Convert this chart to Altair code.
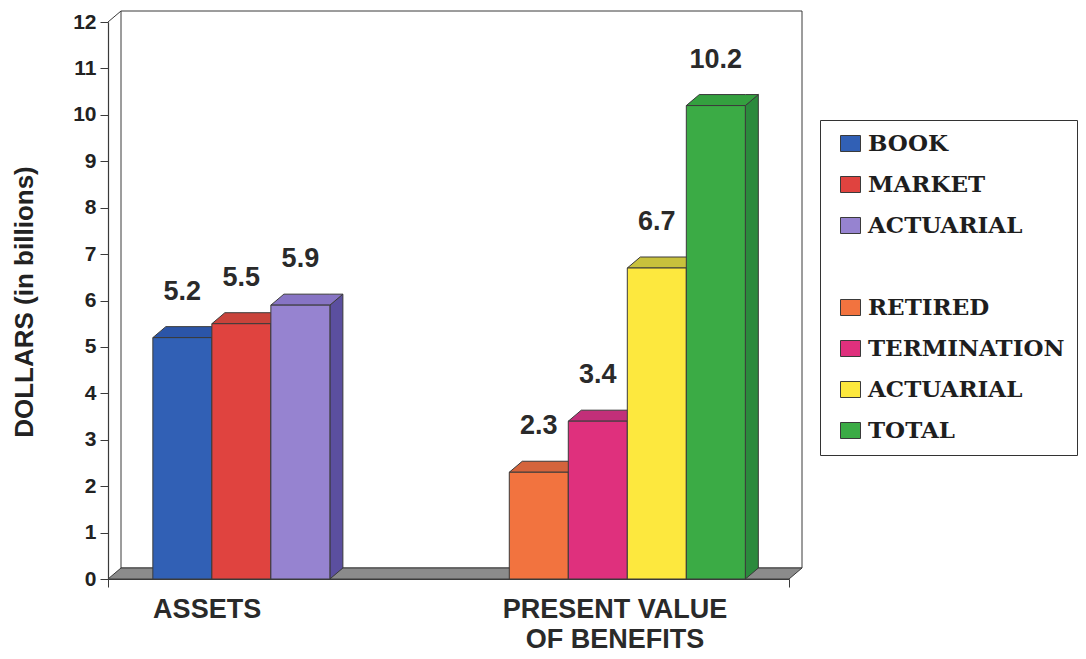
import altair as alt
import pandas as pd

# ---- data -------------------------------------------------------------
group_labels = ["ASSETS", "PRESENT VALUE\nOF BENEFITS"]

assets_keys = ["BOOK", "MARKET", "ACTUARIAL"]
assets_values = [5.2, 5.5, 5.9]

benefit_keys = ["RETIRED", "TERMINATION", "ACTUARIAL ", "TOTAL"]
benefit_values = [2.3, 3.4, 6.7, 10.2]

# legend order; " " is an empty spacer row between the two groups
legend_order = ["BOOK", "MARKET", "ACTUARIAL", " ",
                "RETIRED", "TERMINATION", "ACTUARIAL ", "TOTAL"]
front_colors = ["#3160b5", "#e0433f", "#9683d0", "#ffffff",
                "#f2733f", "#df307d", "#fde83e", "#3bab45"]
top_colors = ["#2b55a8", "#c9433b", "#8774c4", "#ffffff",
              "#d4643c", "#c22f79", "#c8c13c", "#34a03f"]
side_colors = ["#23478f", "#b03a35", "#5b4f9f", "#ffffff",
               "#bf5a36", "#a82a69", "#b3ad34", "#2b8a3d"]

y_ticks = list(range(0, 13))

# ---- layout (x in bar-width units, y in billions) ---------------------
BAR_W = 1.0
X_MAX = 11.54
GROUP_START = [0.76, 6.80]
GROUP_LABEL_X = [1.68, 8.59]
DX = 13 / 59.0          # depth of the 3-D extrusion, horizontal
DY = 11 / 46.42         # depth of the 3-D extrusion, vertical
Y_MAX = 12

W, H = 681, 557
PAD = {"left": 108, "top": 22, "right": 1086 - 108 - W, "bottom": 659 - 22 - H}

EDGE = "#3a3a3a"
SANS = "Liberation Sans"

top_of = dict(zip(legend_order, top_colors))
side_of = dict(zip(legend_order, side_colors))
edge_colors = [EDGE if k.strip() else "#ffffff" for k in legend_order]

bars, tops, sides = [], [], []
for g, (keys, vals) in enumerate([(assets_keys, assets_values),
                                  (benefit_keys, benefit_values)]):
    for i, (k, v) in enumerate(zip(keys, vals)):
        x0 = GROUP_START[g] + i * BAR_W
        x1 = x0 + BAR_W
        fid = f"{g}-{i}"
        bars.append({"key": k, "value": v, "base": 0.0, "x0": x0, "x1": x1,
                     "xc": (x0 + x1) / 2, "label": f"{v:.1f}"})
        for px, hi, lo in [(x0, v, v), (x0 + DX, v + DY, v),
                           (x1, v + DY, v), (x1 + DX, v + DY, v + DY)]:
            tops.append({"face": fid, "x": px, "hi": hi, "lo": lo, "fill": top_of[k]})
        for px, hi, lo in [(x1, v, 0), (x1 + DX, v + DY, DY)]:
            sides.append({"face": fid, "x": px, "hi": hi, "lo": lo, "fill": side_of[k]})

bars_df = pd.DataFrame(bars)
tops_df = pd.DataFrame(tops)
sides_df = pd.DataFrame(sides)

floor_df = pd.DataFrame({"x": [0, DX, X_MAX, X_MAX + DX],
                         "hi": [0, DY, DY, DY],
                         "lo": [0, 0, 0, DY]})
wall_df = pd.DataFrame({"x": [DX], "x2": [X_MAX + DX], "y": [DY], "y2": [Y_MAX + DY]})
edge_df = pd.DataFrame({"x": [0], "x2": [DX], "y": [Y_MAX], "y2": [Y_MAX + DY]})
groups_df = pd.DataFrame({"x": GROUP_LABEL_X, "text": group_labels})

xs = alt.Scale(domain=[0, X_MAX], nice=False, zero=False)
ys = alt.Scale(domain=[0, Y_MAX], nice=False)

x_axis = alt.Axis(values=[0, X_MAX], labels=False, title=None, grid=False,
                  tickSize=8, tickColor=EDGE, domainColor=EDGE, domainWidth=1.2)
y_axis = alt.Axis(values=y_ticks, grid=False, tickSize=8, tickColor=EDGE,
                  domainColor=EDGE, domainWidth=1.2, labelPadding=4,
                  labelFont=SANS, labelFontWeight="bold", labelFontSize=21,
                  labelColor="#222", title="DOLLARS (in billions)",
                  titleFont=SANS, titleFontWeight="bold", titleFontSize=26,
                  titleColor="#222", titleX=-84, titleY=H / 2 + 1,
                  titleAngle=-90, titleBaseline="middle", titleAlign="center")

wall = alt.Chart(wall_df).mark_rect(fill="white", stroke=EDGE, strokeWidth=1).encode(
    x=alt.X("x:Q", scale=xs, axis=x_axis), x2="x2:Q",
    y=alt.Y("y:Q", scale=ys, axis=y_axis), y2="y2:Q")

edge = alt.Chart(edge_df).mark_rule(color=EDGE, strokeWidth=1).encode(
    x=alt.X("x:Q", scale=xs), x2="x2:Q", y=alt.Y("y:Q", scale=ys), y2="y2:Q")

floor = alt.Chart(floor_df).mark_area(fill="#8b8b8b", stroke=EDGE, strokeWidth=1).encode(
    x=alt.X("x:Q", scale=xs), y=alt.Y("hi:Q", scale=ys), y2="lo:Q")

side_faces = alt.Chart(sides_df).mark_area(stroke=EDGE, strokeWidth=1).encode(
    x=alt.X("x:Q", scale=xs), y=alt.Y("hi:Q", scale=ys), y2="lo:Q",
    detail="face:N", fill=alt.Fill("fill:N", scale=None))

top_faces = alt.Chart(tops_df).mark_area(stroke=EDGE, strokeWidth=1).encode(
    x=alt.X("x:Q", scale=xs), y=alt.Y("hi:Q", scale=ys), y2="lo:Q",
    detail="face:N", fill=alt.Fill("fill:N", scale=None))

legend = alt.Legend(
    orient="none", legendX=712, legendY=98, title=None,
    symbolType="M-1,-0.8H1V0.8H-1Z", symbolSize=400, symbolStrokeWidth=1,
    symbolOffset=7,
    labelFont="DejaVu Serif", labelFontWeight="bold", labelFontSize=23,
    labelColor="#1e1e1e", labelOffset=6, labelLimit=400,
    rowPadding=17, padding=12, strokeColor="#333", fillColor="white")

front = alt.Chart(bars_df).mark_bar(strokeWidth=1).encode(
    x=alt.X("x0:Q", scale=xs), x2="x1:Q",
    y=alt.Y("value:Q", scale=ys), y2="base:Q",
    color=alt.Color("key:N", scale=alt.Scale(domain=legend_order, range=front_colors),
                    legend=legend),
    stroke=alt.Stroke("key:N", scale=alt.Scale(domain=legend_order, range=edge_colors),
                      legend=legend))

values = alt.Chart(bars_df).mark_text(
    font=SANS, fontWeight="bold", fontSize=27, color="#2a2a2a",
    baseline="alphabetic", dy=-38).encode(
    x=alt.X("xc:Q", scale=xs), y=alt.Y("value:Q", scale=ys), text="label:N")

group_text = alt.Chart(groups_df).mark_text(
    font=SANS, fontWeight="bold", fontSize=27, color="#2a2a2a",
    baseline="alphabetic", lineBreak="\n", lineHeight=30).encode(
    x=alt.X("x:Q", scale=xs), y=alt.value(H + 39), text="text:N")

chart = alt.layer(wall, floor, edge, side_faces, top_faces, front, values, group_text).properties(
    width=W, height=H, padding=PAD, autosize="none", background="white"
).configure_view(stroke=None)

chart.save("out.html", embed_options={"renderer": "svg", "actions": False})
